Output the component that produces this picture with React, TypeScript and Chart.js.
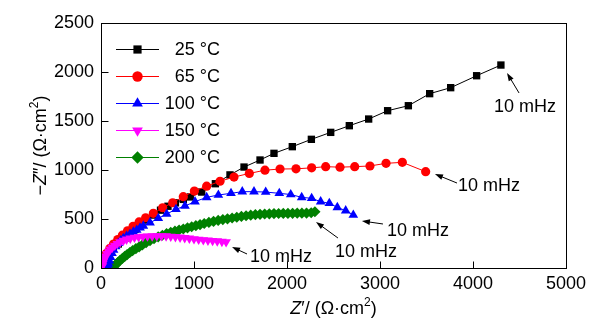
import React, { useEffect, useRef } from 'react';
import { Chart, registerables } from 'chart.js';

Chart.register(...registerables);

const FONT = 'Arial, "Liberation Sans", sans-serif';

// ---- data ----
const seriesLabels = ['25 °C', '65 °C', '100 °C', '150 °C', '200 °C'];
const xTicks = [0, 1000, 2000, 3000, 4000, 5000];
const yTicks = [0, 500, 1000, 1500, 2000, 2500];

const z25x = [15, 40, 78, 132, 186, 258, 312, 366, 437, 491, 563, 640, 720, 800, 885, 960, 1083, 1230, 1387, 1538, 1710, 1860, 2057, 2262, 2470, 2670, 2878, 3082, 3305, 3534, 3760, 4039, 4300];
const z25y = [40, 100, 155, 205, 245, 305, 355, 395, 450, 490, 540, 590, 630, 665, 700, 725, 775, 860, 950, 1030, 1102, 1170, 1238, 1313, 1384, 1452, 1520, 1605, 1656, 1779, 1840, 1962, 2071];

const z65x = [10, 30, 60, 95, 135, 180, 230, 285, 345, 410, 480, 563, 663, 771, 885, 1004, 1136, 1280, 1430, 1595, 1763, 1925, 2097, 2265, 2416, 2570, 2728, 2892, 3065, 3240, 3491];
const z65y = [50, 100, 150, 200, 245, 290, 335, 380, 425, 470, 513, 558, 615, 666, 728, 785, 835, 885, 928, 965, 998, 1010, 1012, 1022, 1034, 1029, 1034, 1041, 1068, 1078, 983];

const z100x = [65, 72, 80, 90, 102, 118, 135, 158, 186, 212, 240, 275, 312, 348, 384, 420, 455, 527, 616, 706, 806, 903, 1011, 1136, 1262, 1398, 1519, 1645, 1771, 1917, 2040, 2158, 2265, 2362, 2455, 2541, 2631, 2713];
const z100y = [0, 20, 45, 75, 110, 150, 185, 220, 252, 280, 303, 325, 347, 368, 388, 410, 429, 462, 507, 551, 599, 633, 677, 721, 745, 762, 779, 779, 775, 762, 750, 721, 711, 677, 660, 619, 585, 541];

const z150x = [15, 20, 28, 38, 50, 65, 82, 100, 122, 148, 175, 205, 240, 275, 315, 360, 405, 450, 500, 550, 600, 650, 700, 750, 800, 850, 900, 950, 1000, 1050, 1100, 1150, 1200, 1250, 1300, 1345];
const z150y = [20, 45, 70, 95, 120, 145, 168, 190, 210, 230, 248, 265, 280, 292, 303, 311, 317, 321, 324, 326, 327, 327, 325, 322, 318, 313, 308, 302, 296, 291, 286, 282, 278, 274, 270, 266];

const z200x = [120, 140, 160, 180, 205, 230, 255, 280, 310, 340, 375, 410, 445, 485, 527, 570, 615, 660, 705, 750, 795, 840, 885, 930, 975, 1020, 1065, 1110, 1160, 1210, 1260, 1310, 1360, 1410, 1460, 1510, 1560, 1610, 1660, 1710, 1760, 1810, 1860, 1910, 1960, 2010, 2060, 2110, 2160, 2210, 2260, 2300];
const z200y = [0, 15, 35, 55, 78, 98, 118, 136, 158, 178, 197, 215, 235, 258, 280, 300, 318, 334, 350, 363, 376, 388, 398, 410, 421, 432, 442, 454, 465, 475, 485, 494, 502, 510, 518, 526, 533, 539, 544, 548, 551, 553, 555, 556, 557, 557, 558, 559, 559, 560, 564, 574];

// "10 mHz" annotations (data coordinates): text centre, arrow tail, arrow tip
const noteText = '10 mHz';
const noteTextX = [4559, 4172, 3409, 2849, 1935];
const noteTextY = [1643, 837, 378, 163, 112];
const noteTailX = [4495, 3828, 3032, 2548, 1570];
const noteTailY = [1786, 867, 449, 306, 143];
const noteTipX = [4366, 3591, 2806, 2312, 1409];
const noteTipY = [1990, 959, 480, 469, 214];

const colors = ['#000000', '#ff0000', '#0000ff', '#ff00ff', '#008000'];
const styles = ['rect', 'circle', 'triangle', 'triangle', 'rectRot'];
const rotations = [0, 0, 0, 180, 0];
const radii = [5.2, 4.6, 5.6, 5.6, 5.6];
const orders = [5, 4, 2, 1, 3];

const seriesX = [z25x, z65x, z100x, z150x, z200x];
const seriesY = [z25y, z65y, z100y, z150y, z200y];

function drawMarker(ctx: CanvasRenderingContext2D, style: string, rot: number, r: number, x: number, y: number, color: string) {
  ctx.save();
  ctx.fillStyle = color;
  ctx.translate(x, y);
  ctx.rotate((rot * Math.PI) / 180);
  ctx.beginPath();
  if (style === 'rect') {
    const s = Math.SQRT1_2 * r;
    ctx.rect(-s, -s, 2 * s, 2 * s);
  } else if (style === 'circle') {
    ctx.arc(0, 0, r, 0, Math.PI * 2);
  } else if (style === 'triangle') {
    for (let i = 0; i < 3; i++) {
      const a = (i * 2 * Math.PI) / 3;
      const px = Math.sin(a) * r;
      const py = -Math.cos(a) * r;
      if (i === 0) ctx.moveTo(px, py);
      else ctx.lineTo(px, py);
    }
    ctx.closePath();
  } else {
    ctx.moveTo(0, -r);
    ctx.lineTo(r, 0);
    ctx.lineTo(0, r);
    ctx.lineTo(-r, 0);
    ctx.closePath();
  }
  ctx.fill();
  ctx.restore();
}

type Seg = { t: string; it?: boolean; sup?: boolean };

function drawRich(ctx: CanvasRenderingContext2D, segs: Seg[], size: number) {
  const fontOf = (s: Seg) => `${s.it ? 'italic ' : ''}${s.sup ? Math.round(size * 0.65) : size}px ${FONT}`;
  let total = 0;
  const widths = segs.map((s) => {
    ctx.font = fontOf(s);
    const w = ctx.measureText(s.t).width;
    total += w;
    return w;
  });
  let x = -total / 2;
  ctx.textBaseline = 'alphabetic';
  ctx.textAlign = 'left';
  segs.forEach((s, i) => {
    ctx.font = fontOf(s);
    ctx.fillText(s.t, x, s.sup ? -size * 0.42 : 0);
    x += widths[i];
  });
}

const overlayPlugin = {
  id: 'overlay',
  afterDatasetsDraw(chart: any) {
    const { ctx, chartArea: a, scales } = chart;
    const xs = scales.x;
    const ys = scales.y;
    ctx.save();
    ctx.strokeStyle = '#000';
    ctx.lineWidth = 1;
    const L = Math.round(a.left) + 0.5;
    const T = Math.round(a.top) + 0.5;
    const R = Math.round(a.right) + 0.5;
    const B = Math.round(a.bottom) + 0.5;
    ctx.strokeRect(L, T, R - L, B - T);
    ctx.beginPath();
    xTicks.forEach((v) => {
      const px = Math.round(xs.getPixelForValue(v)) + 0.5;
      ctx.moveTo(px, B);
      ctx.lineTo(px, B - 7);
    });
    yTicks.forEach((v) => {
      const py = Math.round(ys.getPixelForValue(v)) + 0.5;
      ctx.moveTo(L, py);
      ctx.lineTo(L + 7, py);
    });
    ctx.stroke();

    // annotations
    ctx.fillStyle = '#000';
    ctx.font = `18px ${FONT}`;
    ctx.textAlign = 'center';
    ctx.textBaseline = 'middle';
    for (let i = 0; i < noteTextX.length; i++) {
      const tx = xs.getPixelForValue(noteTextX[i]);
      const ty = ys.getPixelForValue(noteTextY[i]);
      ctx.fillText(noteText, tx, ty);
      const x0 = xs.getPixelForValue(noteTailX[i]);
      const y0 = ys.getPixelForValue(noteTailY[i]);
      const x1 = xs.getPixelForValue(noteTipX[i]);
      const y1 = ys.getPixelForValue(noteTipY[i]);
      const ang = Math.atan2(y1 - y0, x1 - x0);
      const hl = 8;
      const hw = 2.8;
      ctx.beginPath();
      ctx.moveTo(x0, y0);
      ctx.lineTo(x1 - Math.cos(ang) * hl * 0.8, y1 - Math.sin(ang) * hl * 0.8);
      ctx.stroke();
      ctx.beginPath();
      ctx.moveTo(x1, y1);
      ctx.lineTo(x1 - Math.cos(ang) * hl - Math.sin(ang) * hw, y1 - Math.sin(ang) * hl + Math.cos(ang) * hw);
      ctx.lineTo(x1 - Math.cos(ang) * hl + Math.sin(ang) * hw, y1 - Math.sin(ang) * hl - Math.cos(ang) * hw);
      ctx.closePath();
      ctx.fill();
    }

    // legend
    const rowY = [49, 76, 103, 130, 157];
    for (let i = 0; i < seriesLabels.length; i++) {
      const y = rowY[i];
      ctx.strokeStyle = colors[i];
      ctx.lineWidth = 1;
      ctx.beginPath();
      ctx.moveTo(116, y + 0.5);
      ctx.lineTo(159, y + 0.5);
      ctx.stroke();
      drawMarker(ctx, styles[i], rotations[i], radii[i] + 0.6, 137.5, y + 0.5, colors[i]);
      ctx.fillStyle = '#000';
      ctx.font = `18px ${FONT}`;
      ctx.textAlign = 'right';
      ctx.textBaseline = 'middle';
      ctx.fillText(seriesLabels[i], 220, y + 1);
    }

    // axis titles
    ctx.fillStyle = '#000';
    ctx.save();
    ctx.translate((a.left + a.right) / 2, 314);
    drawRich(ctx, [{ t: 'Z', it: true }, { t: '\u2032/ (\u03A9\u00B7cm' }, { t: '2', sup: true }, { t: ')' }], 18);
    ctx.restore();
    ctx.save();
    ctx.translate(46, (a.top + a.bottom) / 2);
    ctx.rotate(-Math.PI / 2);
    drawRich(ctx, [{ t: '\u2212' }, { t: 'Z', it: true }, { t: '\u2033/ (\u03A9\u00B7cm' }, { t: '2', sup: true }, { t: ')' }], 18);
    ctx.restore();
    ctx.restore();
  },
};

export default function App() {
  const ref = useRef<HTMLCanvasElement | null>(null);
  useEffect(() => {
    if (!ref.current) return;
    const datasets = seriesLabels.map((label, i) => ({
      label,
      data: seriesX[i].map((x, j) => ({ x, y: seriesY[i][j] })),
      showLine: true,
      borderColor: colors[i],
      backgroundColor: colors[i],
      borderWidth: 1,
      pointStyle: styles[i],
      pointRotation: rotations[i],
      pointRadius: radii[i],
      pointBorderWidth: 0,
      pointBackgroundColor: colors[i],
      pointBorderColor: colors[i],
      order: orders[i],
      tension: 0,
    }));
    const chart = new Chart(ref.current, {
      type: 'scatter',
      data: { datasets },
      options: {
        animation: false,
        responsive: false,
        devicePixelRatio: 1,
        layout: { padding: { left: 0, right: 36, top: 23, bottom: 0 } },
        plugins: { legend: { display: false }, tooltip: { enabled: false } },
        scales: {
          x: {
            type: 'linear',
            min: 0,
            max: 5000,
            afterFit: (s: any) => { s.height = 68; },
            afterBuildTicks: (s: any) => { s.ticks = xTicks.map((v) => ({ value: v })); },
            grid: { display: false, drawTicks: false },
            border: { display: false },
            ticks: {
              padding: 5,
              color: '#000',
              font: { family: FONT, size: 18 },
              maxRotation: 0,
              callback: (v: any) => String(v),
            },
          },
          y: {
            type: 'linear',
            min: 0,
            max: 2500,
            afterFit: (s: any) => { s.width = 101; },
            afterBuildTicks: (s: any) => { s.ticks = yTicks.map((v) => ({ value: v })); },
            grid: { display: false, drawTicks: false },
            border: { display: false },
            ticks: {
              padding: 7,
              color: '#000',
              font: { family: FONT, size: 18 },
              callback: (v: any) => String(v),
            },
          },
        },
      },
      plugins: [overlayPlugin],
    } as any);
    return () => chart.destroy();
  }, []);
  return (
    <div style={{ position: 'absolute', left: 0, top: 0, width: 602, height: 336, background: '#fff' }}>
      <canvas ref={ref} width={602} height={336} style={{ width: 602, height: 336, display: 'block' }} />
    </div>
  );
}
